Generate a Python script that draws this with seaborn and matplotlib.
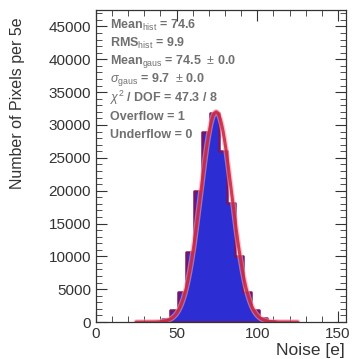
import numpy as np
import matplotlib
matplotlib.use("Agg")
import matplotlib.pyplot as plt
from matplotlib.ticker import MultipleLocator
import seaborn as sns

# noise histogram, 5e bins (lower edge of each bin)
bin_lo = [41, 46, 51, 56, 61, 66, 71, 76, 81, 86, 91, 96, 101, 106]
pixel_counts = [400, 1800, 4600, 10600, 20000, 28900, 31900, 26000, 18100, 10000, 4600, 1900, 600, 150]
bin_width = 5

# gaussian fit result
fit_mean = 74.5
fit_sigma = 9.7
fit_amp = 32000
fit_lo, fit_hi = 25, 125

stats_lines = [
    r"Mean$_{\rm hist}$ = 74.6",
    r"RMS$_{\rm hist}$ = 9.9",
    r"Mean$_{\rm gaus}$ = 74.5  $\pm$ 0.0",
    r"$\sigma_{\rm gaus}$ = 9.7  $\pm$ 0.0",
    r"$\chi^{2}$ / DOF = 47.3 / 8",
    "Overflow = 1",
    "Underflow = 0",
]

sns.set_style("ticks")
plt.rcParams["font.family"] = ["Liberation Sans", "DejaVu Sans"]
plt.rcParams["mathtext.fontset"] = "custom"
plt.rcParams["mathtext.rm"] = "Liberation Sans"
plt.rcParams["mathtext.it"] = "Liberation Sans:italic"

fig = plt.figure(figsize=(3.55, 3.59), dpi=100)
ax = fig.add_axes([0.270, 0.103, 0.705, 0.869])

centers = [b + bin_width / 2 for b in bin_lo]
edges = bin_lo + [bin_lo[-1] + bin_width]
sns.histplot(x=centers, weights=pixel_counts, bins=edges, element="step", fill=True,
             color="#2d2dd4", alpha=1, edgecolor="#7a1464", linewidth=1.8, ax=ax)

xs = np.linspace(fit_lo, fit_hi, 400)
ys = fit_amp * np.exp(-0.5 * ((xs - fit_mean) / fit_sigma) ** 2)
sns.lineplot(x=xs, y=ys, color="#f4a0b0", linewidth=4, alpha=0.6, ax=ax)
sns.lineplot(x=xs, y=ys, color="#c8203c", linewidth=2.2, alpha=0.85, ax=ax)

for i, line in enumerate(stats_lines):
    ax.text(0.056, 0.952 - i * 0.0587, line, transform=ax.transAxes, fontsize=9,
            color="#707070", fontweight="bold", va="center", ha="left")

ax.set_xlim(0, 155)
ax.set_ylim(0, 47500)
ax.xaxis.set_major_locator(MultipleLocator(50))
ax.xaxis.set_minor_locator(MultipleLocator(10))
ax.yaxis.set_major_locator(MultipleLocator(5000))
ax.yaxis.set_minor_locator(MultipleLocator(1000))
ax.tick_params(which="both", direction="in", top=True, right=True, labelsize=11, colors="#333333")
ax.tick_params(which="major", length=8, width=0.8)
ax.tick_params(which="minor", length=4, width=0.6)
for s in ax.spines.values():
    s.set_linewidth(0.9)
    s.set_color("#333333")

ax.set_xlabel("Noise [e]", fontsize=12.5, color="#333333", loc="right")
ax.set_ylabel("Number of Pixels per 5e", fontsize=11.5, color="#333333", loc="top")
ax.xaxis.set_label_coords(0.996, -0.068)
ax.yaxis.set_label_coords(-0.285, 0.978)

fig.savefig("out.png", dpi=100)
